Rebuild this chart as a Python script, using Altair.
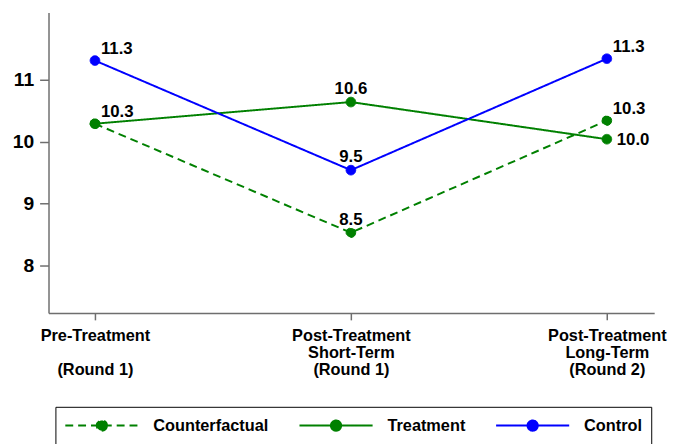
import json
import altair as alt
import pandas as pd

# ---- data ----
x_pos = [0, 1, 2]
x_labels = [
    ["Pre-Treatment", "\u200b", "(Round 1)"],
    ["Post-Treatment", "Short-Term", "(Round 1)"],
    ["Post-Treatment", "Long-Term", "(Round 2)"],
]
series_names = ["Counterfactual", "Treatment", "Control"]
counterfactual = [10.29, 8.53, 10.34]
treatment = [10.29, 10.64, 10.04]
control = [11.31, 9.54, 11.34]
y_ticks = [8, 9, 10, 11]

colors = ["#008000", "#008000", "#0000ff"]
dashes = [[8, 5], [1, 0], [1, 0]]

rows = []
for name, vals in zip(series_names, [counterfactual, treatment, control]):
    for xi, v in zip(x_pos, vals):
        rows.append({"x": xi, "value": v, "series": name})
df = pd.DataFrame(rows)

FONT = "Liberation Sans"

label_expr = " : ".join(
    f"datum.value == {i} ? {json.dumps(lab)}" for i, lab in zip(x_pos, x_labels)
) + " : ''"

x_enc = alt.X(
    "x:Q",
    scale=alt.Scale(domain=[-0.1815, 2.185], nice=False, zero=False),
    axis=alt.Axis(
        values=x_pos, labelExpr=label_expr, title=None, grid=False,
        tickSize=7, labelPadding=8, labelFontSize=16.5, labelFont=FONT,
        labelFontWeight="bold", labelColor="black", labelLineHeight=17,
        domainColor="#6e6e6e", tickColor="#6e6e6e", domainWidth=1.5, tickWidth=1.5,
        labelAngle=0, labelAlign="center", labelOverlap=False, labelBound=False,
    ),
)
y_enc = alt.Y(
    "value:Q",
    scale=alt.Scale(domain=[7.234, 12.085], nice=False, zero=False),
    axis=alt.Axis(
        values=y_ticks, title=None, grid=False, tickSize=9, labelPadding=6,
        labelFontSize=19.5, labelFont=FONT, labelFontWeight="bold", labelColor="black",
        domainColor="#6e6e6e", tickColor="#6e6e6e", domainWidth=1.5, tickWidth=1.5,
    ),
)

base = alt.Chart(df)

lines = base.transform_calculate(
    col="datum.series == 'Control' ? '#0000ff' : '#008000'",
    dash="datum.series == 'Counterfactual' ? [8,5] : [1,0]",
).mark_line(strokeWidth=2).encode(
    x=x_enc, y=y_enc,
    stroke=alt.Stroke("col:N", scale=None),
    strokeDash=alt.StrokeDash("dash:N", scale=None),
    detail="series:N",
)

sym_path = ("M-1,0H1M0.14,0A0.14,0.14,0,1,1,-0.14,0A0.14,0.14,0,1,1,0.14,0Z")
legend = alt.Legend(
    orient="none", legendX=7, legendY=399, direction="horizontal", title=None,
    symbolType=sym_path, symbolSize=5476, symbolStrokeWidth=2,
    labelFontSize=16.5, labelFont=FONT, labelFontWeight="bold", labelColor="black",
    labelOffset=14, columnPadding=30, padding=9, strokeColor="black",
    clipHeight=20,
)
sc_color = alt.Scale(domain=series_names, range=colors)
sc_dash = alt.Scale(domain=series_names, range=dashes)

points = base.mark_point(filled=True, size=95, opacity=1, strokeWidth=1).encode(
    x=x_enc, y=y_enc,
    fill=alt.Fill("series:N", scale=sc_color, legend=legend, sort=series_names),
    stroke=alt.Stroke("series:N", scale=sc_color, legend=legend, sort=series_names),
    strokeDash=alt.StrokeDash("series:N", scale=sc_dash, legend=legend, sort=series_names),
    shape=alt.value("circle"),
)

txt_kw = dict(font=FONT, fontWeight="bold", fontSize=17, color="black")

lab_a = base.transform_filter(
    "(datum.series == 'Control' && (datum.x == 0 || datum.x == 2)) || "
    "(datum.series == 'Treatment' && datum.x == 0) || "
    "(datum.series == 'Counterfactual' && datum.x == 2)"
).mark_text(align="left", baseline="alphabetic", dx=6, dy=-7, **txt_kw).encode(
    x=x_enc, y=y_enc, text=alt.Text("value:Q", format=".1f"))

lab_b = base.transform_filter("datum.x == 1").mark_text(
    align="center", baseline="alphabetic", dy=-8, **txt_kw).encode(
    x=x_enc, y=y_enc, text=alt.Text("value:Q", format=".1f"))

lab_c = base.transform_filter("datum.series == 'Treatment' && datum.x == 2").mark_text(
    align="left", baseline="middle", dx=10, dy=1, **txt_kw).encode(
    x=x_enc, y=y_enc, text=alt.Text("value:Q", format=".1f"))

chart = alt.layer(lines, points, lab_a, lab_b, lab_c).properties(
    width=613, height=304,
    autosize=alt.AutoSizeParams(type="none"),
    padding={"left": 41, "top": 2, "right": 16, "bottom": 130},
).configure_view(strokeWidth=0)

chart.save("out.html", embed_options={"renderer": "svg", "actions": False})
